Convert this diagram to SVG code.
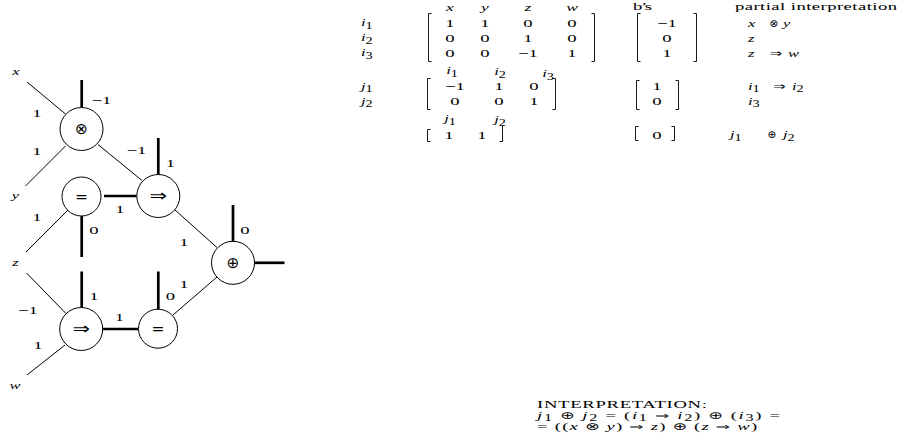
<svg xmlns="http://www.w3.org/2000/svg" width="906" height="448" viewBox="0 0 906 448">
<style>
.thin{stroke:#000;stroke-width:1;fill:none}
.thick{stroke:#000;stroke-width:2.7;fill:none}
.br{stroke:#000;stroke-width:0.9;fill:none}
.node circle{fill:#fff;stroke:#000;stroke-width:1}
.sym{font-family:"DejaVu Sans",sans-serif;font-size:15.5px;text-anchor:middle;fill:#000}
.t text{font-family:"Liberation Serif",serif;font-size:11px;fill:#000}
.m{text-anchor:middle}
.it{font-style:italic}
.sub{font-size:9.5px;font-style:normal}
.op{font-family:"DejaVu Sans",sans-serif;font-size:10px;font-style:normal}
.t text.opm{font-family:"DejaVu Sans",sans-serif;font-size:10.5px;text-anchor:middle}
</style>
<rect width="906" height="448" fill="#fff"/>

<g id="connectors">
  <line class="thin" x1="27" y1="82" x2="65.5" y2="114"/>
  <line class="thin" x1="65.5" y1="146" x2="25.5" y2="186"/>
  <line class="thin" x1="98" y1="144.5" x2="142" y2="180.5"/>
  <line class="thin" x1="68" y1="210" x2="26" y2="252"/>
  <line class="thin" x1="26.5" y1="273" x2="66" y2="313.5"/>
  <line class="thin" x1="65" y1="345" x2="27" y2="375"/>
  <line class="thin" x1="175" y1="210" x2="217" y2="247.5"/>
  <line class="thin" x1="173" y1="315" x2="217" y2="277"/>
  <line class="thick" x1="81.7" y1="80" x2="81.7" y2="107.5"/>
  <line class="thick" x1="158.3" y1="138" x2="158.3" y2="175"/>
  <line class="thick" x1="104" y1="196" x2="136.5" y2="196"/>
  <line class="thick" x1="81.7" y1="215.5" x2="81.7" y2="257"/>
  <line class="thick" x1="81.7" y1="271.5" x2="81.7" y2="308"/>
  <line class="thick" x1="158.3" y1="271.5" x2="158.3" y2="309.5"/>
  <line class="thick" x1="103" y1="329" x2="138.5" y2="329"/>
  <line class="thick" x1="233" y1="205" x2="233" y2="241.5"/>
  <line class="thick" x1="254.5" y1="262.8" x2="284.5" y2="262.8"/>
</g>

<g id="edge-labels" class="t">
  <text transform="translate(16 74.5) scale(1.5 1)" class="m it">x</text>
  <text transform="translate(15.5 199) scale(1.5 1)" class="m it">y</text>
  <text transform="translate(15.5 265.5) scale(1.5 1)" class="m it">z</text>
  <text transform="translate(15 388.5) scale(1.5 1)" class="m it">w</text>
  <text transform="translate(101.5 103.5) scale(1.7 1)" class="m">−1</text>
  <text transform="translate(37 117) scale(1.7 1)" class="m">1</text>
  <text transform="translate(37 154.5) scale(1.7 1)" class="m">1</text>
  <text transform="translate(136.5 153.5) scale(1.7 1)" class="m">−1</text>
  <text transform="translate(170.5 167) scale(1.7 1)" class="m">1</text>
  <text transform="translate(120 212.5) scale(1.7 1)" class="m">1</text>
  <text transform="translate(37 220.5) scale(1.7 1)" class="m">1</text>
  <text transform="translate(94 234) scale(1.7 1)" class="m">0</text>
  <text transform="translate(184 245.5) scale(1.7 1)" class="m">1</text>
  <text transform="translate(245 234) scale(1.7 1)" class="m">0</text>
  <text transform="translate(94 300) scale(1.7 1)" class="m">1</text>
  <text transform="translate(170.5 300) scale(1.7 1)" class="m">0</text>
  <text transform="translate(184 287.5) scale(1.7 1)" class="m">1</text>
  <text transform="translate(28 313.5) scale(1.7 1)" class="m">−1</text>
  <text transform="translate(38 349) scale(1.7 1)" class="m">1</text>
  <text transform="translate(119.5 320.5) scale(1.7 1)" class="m">1</text>
</g>

<g id="node-otimes" class="node"><circle cx="81.5" cy="129" r="21.5"/><text class="sym" x="81.5" y="134.2">⊗</text></g>
<g id="node-eq-top" class="node"><circle cx="81.5" cy="196.5" r="19.5"/><text class="sym" x="81.5" y="201.7">=</text></g>
<g id="node-impl-top" class="node"><circle cx="158.3" cy="196" r="21.5"/><text class="sym" transform="translate(158.3 201.2) scale(1.35 1)">⇒</text></g>
<g id="node-oplus" class="node"><circle cx="233" cy="262.8" r="21.5"/><text class="sym" x="233" y="268">⊕</text></g>
<g id="node-impl-bot" class="node"><circle cx="81.2" cy="329" r="21.5"/><text class="sym" transform="translate(81.2 334.2) scale(1.35 1)">⇒</text></g>
<g id="node-eq-bot" class="node"><circle cx="158" cy="328.7" r="19.5"/><text class="sym" x="158" y="333.9">=</text></g>

<g id="matrices" class="t">
  <!-- headers -->
  <text transform="translate(450 10.5) scale(1.6 1)" class="m it">x</text>
  <text transform="translate(485 10.5) scale(1.6 1)" class="m it">y</text>
  <text transform="translate(528 10.5) scale(1.6 1)" class="m it">z</text>
  <text transform="translate(572 10.5) scale(1.6 1)" class="m it">w</text>
  <text transform="translate(633 9.5) scale(1.7 1)" textLength="11.2">b’s</text>
  <text transform="translate(735 9.5) scale(1.7 1)" textLength="95.3">partial interpretation</text>
  <!-- matrix 1 -->
  <text transform="translate(361 26) scale(1.5 1)" class="it">i<tspan class="sub" dy="2.5">1</tspan></text>
  <text transform="translate(361 41) scale(1.5 1)" class="it">i<tspan class="sub" dy="2.5">2</tspan></text>
  <text transform="translate(361 56) scale(1.5 1)" class="it">i<tspan class="sub" dy="2.5">3</tspan></text>
  <text transform="translate(450 27) scale(1.7 1)" class="m">1</text>
  <text transform="translate(485 27) scale(1.7 1)" class="m">1</text>
  <text transform="translate(528 27) scale(1.7 1)" class="m">0</text>
  <text transform="translate(572 27) scale(1.7 1)" class="m">0</text>
  <text transform="translate(450 42) scale(1.7 1)" class="m">0</text>
  <text transform="translate(485 42) scale(1.7 1)" class="m">0</text>
  <text transform="translate(528 42) scale(1.7 1)" class="m">1</text>
  <text transform="translate(572 42) scale(1.7 1)" class="m">0</text>
  <text transform="translate(450 57) scale(1.7 1)" class="m">0</text>
  <text transform="translate(485 57) scale(1.7 1)" class="m">0</text>
  <text transform="translate(528 57) scale(1.7 1)" class="m">−1</text>
  <text transform="translate(572 57) scale(1.7 1)" class="m">1</text>
  <path class="br" d="M431.5 13.5H428.5V61.5H431.5M591.5 13.5H594.5V61.5H591.5"/>
  <!-- b1 -->
  <text transform="translate(667 27) scale(1.7 1)" class="m">−1</text>
  <text transform="translate(667 42) scale(1.7 1)" class="m">0</text>
  <text transform="translate(667 57) scale(1.7 1)" class="m">1</text>
  <path class="br" d="M640.5 13.5H637.5V61.5H640.5M693.5 13.5H696.5V61.5H693.5"/>
  <text transform="translate(748 27) scale(1.5 1)" class="it">x</text><text x="774" y="27" class="opm">⊗</text><text transform="translate(783 27) scale(1.5 1)" class="it">y</text>
  <text transform="translate(748 42) scale(1.5 1)" class="it">z</text>
  <text transform="translate(748 57) scale(1.5 1)" class="it">z</text><text transform="translate(776 57) scale(1.4 1)" class="opm">⇒</text><text transform="translate(788 57) scale(1.5 1)" class="it">w</text>
  <!-- matrix 2 -->
  <text transform="translate(452 74) scale(1.5 1)" class="m it">i<tspan class="sub" dy="2.5">1</tspan></text>
  <text transform="translate(500 75) scale(1.5 1)" class="m it">i<tspan class="sub" dy="2.5">2</tspan></text>
  <text transform="translate(548 77) scale(1.5 1)" class="m it">i<tspan class="sub" dy="2.5">3</tspan></text>
  <text transform="translate(361 89.5) scale(1.5 1)" class="it">j<tspan class="sub" dy="2.5">1</tspan></text>
  <text transform="translate(361 104.5) scale(1.5 1)" class="it">j<tspan class="sub" dy="2.5">2</tspan></text>
  <text transform="translate(455 90) scale(1.7 1)" class="m">−1</text>
  <text transform="translate(499 90) scale(1.7 1)" class="m">1</text>
  <text transform="translate(534 90) scale(1.7 1)" class="m">0</text>
  <text transform="translate(455 105) scale(1.7 1)" class="m">0</text>
  <text transform="translate(499 105) scale(1.7 1)" class="m">0</text>
  <text transform="translate(534 105) scale(1.7 1)" class="m">1</text>
  <path class="br" d="M430.5 78.5H427.5V109.5H430.5M552.5 78.5H555.5V109.5H552.5"/>
  <text transform="translate(657 90) scale(1.7 1)" class="m">1</text>
  <text transform="translate(657 105) scale(1.7 1)" class="m">0</text>
  <path class="br" d="M639.5 80.5H636.5V109.5H639.5M675.5 80.5H678.5V109.5H675.5"/>
  <text transform="translate(748 89.5) scale(1.5 1)" class="it">i<tspan class="sub" dy="2.5">1</tspan></text><text transform="translate(779.5 89.5) scale(1.4 1)" class="opm">⇒</text><text transform="translate(792 89.5) scale(1.5 1)" class="it">i<tspan class="sub" dy="2.5">2</tspan></text>
  <text transform="translate(748 104.5) scale(1.5 1)" class="it">i<tspan class="sub" dy="2.5">3</tspan></text>
  <!-- matrix 3 -->
  <text transform="translate(450 122) scale(1.5 1)" class="m it">j<tspan class="sub" dy="2.5">1</tspan></text>
  <text transform="translate(500 123) scale(1.5 1)" class="m it">j<tspan class="sub" dy="2.5">2</tspan></text>
  <text transform="translate(449 138.5) scale(1.7 1)" class="m">1</text>
  <text transform="translate(482 138.5) scale(1.7 1)" class="m">1</text>
  <path class="br" d="M430.5 129.5H427.5V141.5H430.5M499.5 141.5H502.5V125"/>
  <text transform="translate(657 138.5) scale(1.7 1)" class="m">0</text>
  <path class="br" d="M638.5 126.5H635.5V140.5H638.5M671.5 126.5H674.5V140.5H671.5"/>
  <text transform="translate(730 138) scale(1.5 1)" class="it">j<tspan class="sub" dy="2.5">1</tspan></text><text x="772" y="138" class="opm">⊕</text><text transform="translate(783 138) scale(1.5 1)" class="it">j<tspan class="sub" dy="2.5">2</tspan></text>
</g>

<g id="interpretation" class="t">
  <text transform="translate(537 407.5) scale(1.7 1)" textLength="100">INTERPRETATION:</text>
  <text transform="translate(537 418.5) scale(1.7 1)" class="it" textLength="143">j<tspan class="sub" dy="2.5">1</tspan><tspan dy="-2.5"> </tspan><tspan class="op">⊕</tspan> j<tspan class="sub" dy="2.5">2</tspan><tspan dy="-2.5" font-style="normal"> = (</tspan>i<tspan class="sub" dy="2.5">1</tspan><tspan dy="-2.5"> </tspan><tspan class="op">⇒</tspan> i<tspan class="sub" dy="2.5">2</tspan><tspan dy="-2.5" font-style="normal">) </tspan><tspan class="op">⊕</tspan><tspan font-style="normal"> (</tspan>i<tspan class="sub" dy="2.5">3</tspan><tspan dy="-2.5" font-style="normal">) =</tspan></text>
  <text transform="translate(537 429.5) scale(1.7 1)" textLength="129.5"><tspan>= ((</tspan><tspan class="it">x</tspan> <tspan class="op">⊗</tspan> <tspan class="it">y</tspan>) <tspan class="op">⇒</tspan> <tspan class="it">z</tspan>) <tspan class="op">⊕</tspan> (<tspan class="it">z</tspan> <tspan class="op">⇒</tspan> <tspan class="it">w</tspan>)</text>
</g>
</svg>
